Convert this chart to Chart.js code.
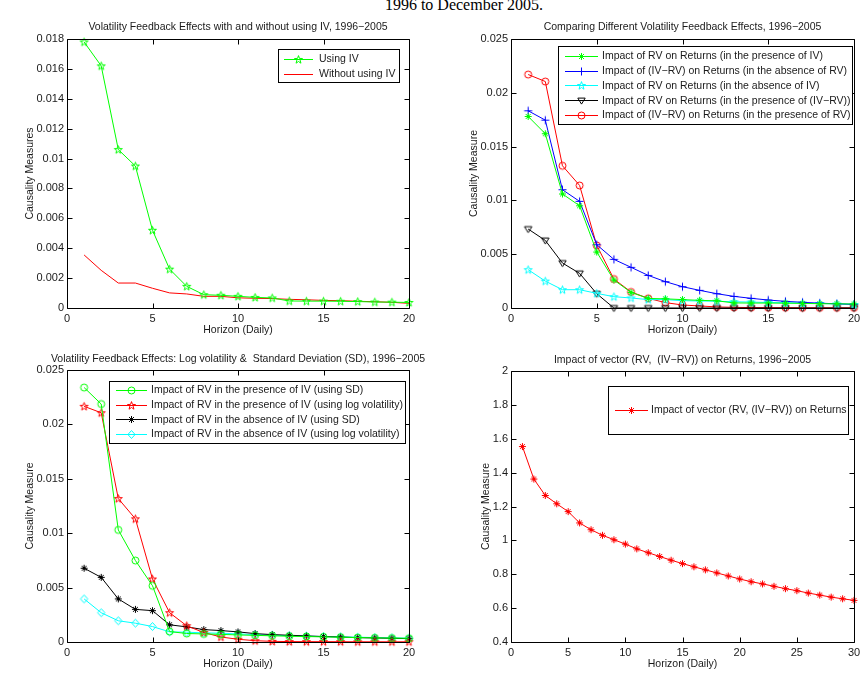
<!DOCTYPE html>
<html><head><meta charset="utf-8">
<script src="https://cdn.jsdelivr.net/npm/chart.js@4.4.1/dist/chart.umd.min.js"></script>
<style>
body{margin:0;background:#fff;width:865px;height:677px;overflow:hidden;position:relative}
canvas{position:absolute;left:0;top:0;width:865px;height:677px}
#pt{position:absolute;left:384px;width:160px;text-align:center;top:-3px;font:16px "Liberation Serif","Times New Roman",serif;line-height:16px;color:#000;white-space:nowrap}
</style></head><body>
<div id="pt">1996 to December 2005.</div>
<canvas id="c1" width="865" height="677"></canvas>
<canvas id="c2" width="865" height="677"></canvas>
<canvas id="c3" width="865" height="677"></canvas>
<canvas id="c4" width="865" height="677"></canvas>
<script>
// ---------- DATA ----------
const horizon20 = [1,2,3,4,5,6,7,8,9,10,11,12,13,14,15,16,17,18,19,20];
const horizon30 = [1,2,3,4,5,6,7,8,9,10,11,12,13,14,15,16,17,18,19,20,21,22,23,24,25,26,27,28,29,30];

// Panel 1
const usingIV   = [0.0178,0.0162,0.0106,0.0095,0.0052,0.0026,0.00145,0.00089,0.00085,0.00078,0.00071,0.00067,0.00047,0.00046,0.00046,0.00045,0.00043,0.0004,0.00039,0.00037];
const withoutIV = [0.00355,0.00252,0.00167,0.00167,0.00132,0.00101,0.00094,0.00078,0.00078,0.00068,0.00065,0.00063,0.00058,0.00055,0.00051,0.00049,0.00045,0.00042,0.00038,0.00031];

// Panel 2
const rvPresIV    = [0.0178,0.0162,0.0106,0.0095,0.0052,0.0026,0.00145,0.00089,0.00085,0.00078,0.00071,0.00067,0.00047,0.00046,0.00046,0.00045,0.00043,0.0004,0.00039,0.00037];
const ivrvAbsRV   = [0.01833,0.01746,0.01099,0.00991,0.00588,0.00452,0.00378,0.00303,0.00245,0.00198,0.00164,0.00133,0.00108,0.0009,0.00074,0.00062,0.00053,0.00045,0.00039,0.00034];
const rvAbsIV     = [0.00356,0.0025,0.0017,0.0017,0.00136,0.00105,0.00093,0.00078,0.00078,0.00068,0.00065,0.00063,0.00058,0.00055,0.00051,0.00049,0.00045,0.00042,0.00038,0.00033];
const rvPresIVRV  = [0.00734,0.00628,0.00418,0.00322,0.00133,0,0,0,0,0,0,0,0,0,0,0,0,0,0,0];
const ivrvPresRV  = [0.0217,0.02105,0.01322,0.01139,0.00582,0.00269,0.00149,0.0009,0.0005,0.00028,0.00019,0.0001,0.00006,0.00004,0.00003,0.00003,0.00002,0.00002,0.00002,0.00002];

// Panel 3
const sdPresIV  = [0.02339,0.02187,0.0103,0.00749,0.00517,0.00096,0.00078,0.00074,0.0007,0.00065,0.00061,0.00057,0.00053,0.0005,0.00047,0.00044,0.00041,0.00038,0.00036,0.00034];
const logPresIV = [0.02166,0.02107,0.01318,0.01132,0.00579,0.00269,0.00149,0.00087,0.00046,0.00025,0.00012,0.00006,0.00004,0.00003,0.00003,0.00003,0.00002,0.00002,0.00002,0.00002];
const sdAbsIV   = [0.00678,0.00594,0.00396,0.003,0.00288,0.00158,0.00139,0.00114,0.00105,0.00093,0.00077,0.00068,0.00062,0.00056,0.0005,0.00046,0.0004,0.00037,0.00034,0.00031];
const logAbsIV  = [0.00396,0.00269,0.00195,0.00173,0.00142,0.00093,0.0009,0.00084,0.00081,0.00074,0.00068,0.00063,0.00058,0.00054,0.0005,0.00047,0.00044,0.00041,0.00038,0.00035];

// Panel 4
const vectorRV = [1.554,1.362,1.265,1.216,1.17,1.103,1.063,1.03,1.004,0.978,0.95,0.927,0.905,0.883,0.863,0.844,0.826,0.808,0.79,0.772,0.756,0.743,0.729,0.715,0.703,0.689,0.677,0.665,0.655,0.646];

// Tick values
const xTicks20 = [0,5,10,15,20];
const xTicks30 = [0,5,10,15,20,25,30];
const yTicks1 = [0,0.002,0.004,0.006,0.008,0.01,0.012,0.014,0.016,0.018];
const yTicks2 = [0,0.005,0.01,0.015,0.02,0.025];
const yTicks4 = [0.4,0.6,0.8,1,1.2,1.4,1.6,1.8,2];

// ---------- STYLE ----------
const FONT = '"Liberation Sans", Arial, Helvetica, sans-serif';
const TXT = '#1a1a1a';

function marker(kind, color) {
  const s = 11, c = 5.5, cv = document.createElement('canvas');
  cv.width = s; cv.height = s;
  const g = cv.getContext('2d');
  g.strokeStyle = color; g.lineWidth = 1; g.beginPath();
  if (kind === 'circle') { g.arc(c, c, 3.5, 0, Math.PI * 2); }
  else if (kind === 'asterisk') {
    for (let k = 0; k < 4; k++) { const a = k * Math.PI / 4, r = 3.5;
      g.moveTo(c - r * Math.cos(a), c - r * Math.sin(a)); g.lineTo(c + r * Math.cos(a), c + r * Math.sin(a)); }
  } else if (kind === 'plus') { g.moveTo(c - 4, c); g.lineTo(c + 4, c); g.moveTo(c, c - 4); g.lineTo(c, c + 4); }
  else if (kind === 'pentagram') {
    for (let k = 0; k < 10; k++) { const a = -Math.PI / 2 + k * Math.PI / 5, r = k % 2 ? 1.7 : 4.2;
      const px = c + r * Math.cos(a), py = c + 0.3 + r * Math.sin(a); k ? g.lineTo(px, py) : g.moveTo(px, py); }
    g.closePath();
  } else if (kind === 'tridown') { g.moveTo(c - 3.7, c - 2.4); g.lineTo(c + 3.7, c - 2.4); g.lineTo(c, c + 3.6); g.closePath(); }
  else if (kind === 'diamond') { g.moveTo(c, c - 4); g.lineTo(c + 3.6, c); g.lineTo(c, c + 4); g.lineTo(c - 3.6, c); g.closePath(); }
  g.stroke();
  return cv;
}

const boxTicks = {
  id: 'boxTicks',
  afterDatasetsDraw(chart) {
    const { ctx, chartArea: a, scales: { x, y } } = chart;
    const l = Math.round(a.left) + 0.5, t = Math.round(a.top) + 0.5, r = Math.round(a.right) + 0.5, b = Math.round(a.bottom) + 0.5;
    ctx.save(); ctx.strokeStyle = '#000'; ctx.lineWidth = 1;
    ctx.beginPath();
    ctx.rect(l, t, r - l, b - t);
    const TL = 5;
    x.ticks.forEach(tk => { const p = Math.round(x.getPixelForValue(tk.value)) + 0.5;
      ctx.moveTo(p, b); ctx.lineTo(p, b - TL); ctx.moveTo(p, t); ctx.lineTo(p, t + TL); });
    y.ticks.forEach(tk => { const p = Math.round(y.getPixelForValue(tk.value)) + 0.5;
      ctx.moveTo(l, p); ctx.lineTo(l + TL, p); ctx.moveTo(r, p); ctx.lineTo(r - TL, p); });
    ctx.stroke(); ctx.restore();
  },
  afterDraw(chart) {
    const o = chart.options.plugins.boxTicks; if (!o) return;
    const ctx = chart.ctx, a = chart.chartArea;
    ctx.save();
    // panel title (drawn at natural width, centred over the axes)
    ctx.font = o.titleSize + 'px ' + FONT; ctx.fillStyle = TXT;
    ctx.textAlign = 'center'; ctx.textBaseline = 'middle';
    ctx.fillText(o.title, (a.left + a.right) / 2, o.titleY);
    // legend
    const lg = o.legend;
    const [x1, y1, x2, y2] = lg.box;
    ctx.fillStyle = '#fff'; ctx.fillRect(x1, y1, x2 - x1, y2 - y1);
    ctx.strokeStyle = '#000'; ctx.lineWidth = 1;
    ctx.strokeRect(Math.round(x1) + 0.5, Math.round(y1) + 0.5, Math.round(x2 - x1), Math.round(y2 - y1));
    ctx.font = lg.fontSize + 'px ' + FONT; ctx.textBaseline = 'middle'; ctx.textAlign = 'left';
    chart.data.datasets.forEach((ds, i) => {
      const yy = Math.round(lg.ys[i]) + 0.5;
      ctx.strokeStyle = ds.borderColor; ctx.lineWidth = 1;
      ctx.beginPath(); ctx.moveTo(lg.line[0], yy); ctx.lineTo(lg.line[1], yy); ctx.stroke();
      if (ds.pointStyle) { const m = ds.pointStyle; ctx.drawImage(m, (lg.line[0] + lg.line[1]) / 2 - m.width / 2, yy - m.height / 2); }
      ctx.fillStyle = TXT; ctx.fillText(ds.label, lg.textX, lg.ys[i] + 0.5);
    });
    ctx.restore();
  }
};

function series(label, xs, ys, color, mk) {
  return {
    label, data: xs.map((x, i) => ({ x, y: ys[i] })),
    borderColor: color, backgroundColor: 'rgba(0,0,0,0)', borderWidth: 1,
    pointStyle: mk ? marker(mk, color) : false, pointRadius: mk ? 4 : 0,
    tension: 0, fill: false, clip: false
  };
}

function panel(id, p) {
  const afs = 10.5, alh = afs * 1.2;
  const xH = 40;
  const yW = p.L - p.padLeft;
  new Chart(document.getElementById(id), {
    type: 'line',
    data: { datasets: p.datasets },
    options: {
      responsive: false, animation: false, events: [],
      layout: { padding: { left: p.padLeft, top: p.T, right: 865 - p.R, bottom: 677 - p.B - xH } },
      plugins: {
        legend: { display: false }, tooltip: { enabled: false }, title: { display: false },
        boxTicks: { title: p.title, titleY: p.titleY, titleSize: 10.5, legend: p.legend }
      },
      scales: {
        x: {
          type: 'linear', min: p.xTicks[0], max: p.xTicks[p.xTicks.length - 1],
          afterBuildTicks: s => { s.ticks = p.xTicks.map(v => ({ value: v })); },
          afterFit: s => { s.height = xH; },
          grid: { display: false, drawTicks: false }, border: { display: false },
          ticks: { padding: 4, maxRotation: 0, autoSkip: false, color: TXT, font: { family: FONT, size: 11 }, callback: v => String(v) },
          title: { display: true, text: 'Horizon (Daily)', color: TXT, font: { family: FONT, size: afs },
            padding: { top: 0, bottom: 18 - alh / 2 } }
        },
        y: {
          type: 'linear', min: p.yTicks[0], max: p.yTicks[p.yTicks.length - 1],
          afterBuildTicks: s => { s.ticks = p.yTicks.map(v => ({ value: v })); },
          afterFit: s => { s.width = yW; },
          grid: { display: false, drawTicks: false }, border: { display: false },
          ticks: { padding: 3, autoSkip: false, color: TXT, font: { family: FONT, size: 11 }, callback: v => String(v) },
          title: { display: true, text: p.yTitle, color: TXT, font: { family: FONT, size: afs },
            padding: { top: p.yTitleX - p.padLeft - alh / 2, bottom: 0 } }
        }
      }
    },
    plugins: [boxTicks]
  });
}

panel('c1', {
  L: 67, T: 39, R: 409, B: 308, padLeft: 0, titleY: 27, yTitleX: 30,
  title: 'Volatility Feedback Effects with and without using IV, 1996\u22122005',
  yTitle: 'Causality Measures', xTicks: xTicks20, yTicks: yTicks1,
  datasets: [
    series('Using IV', horizon20, usingIV, '#00ff00', 'pentagram'),
    series('Without using IV', horizon20, withoutIV, '#ff0000', null)
  ],
  legend: { box: [278, 49, 399, 82], line: [284, 313], textX: 319, ys: [59, 74], fontSize: 10.5 }
});

panel('c2', {
  L: 511, T: 39, R: 854, B: 308, padLeft: 440, titleY: 27, yTitleX: 474,
  title: 'Comparing Different Volatility Feedback Effects, 1996\u22122005',
  yTitle: 'Causality Measure', xTicks: xTicks20, yTicks: yTicks2,
  datasets: [
    series('Impact of RV on Returns (in the presence of IV)', horizon20, rvPresIV, '#00ff00', 'asterisk'),
    series('Impact of (IV\u2212RV) on Returns (in the absence of RV)', horizon20, ivrvAbsRV, '#0000ff', 'plus'),
    series('Impact of RV on Returns (in the absence of IV)', horizon20, rvAbsIV, '#00ffff', 'pentagram'),
    series('Impact of RV on Returns (in the presence of (IV\u2212RV))', horizon20, rvPresIVRV, '#000000', 'tridown'),
    series('Impact of (IV\u2212RV) on Returns (in the presence of RV)', horizon20, ivrvPresRV, '#ff0000', 'circle')
  ],
  legend: { box: [558, 46, 852, 124], line: [565, 598], textX: 602, ys: [55.7, 70.7, 85.3, 100.3, 115], fontSize: 10.5 }
});

panel('c3', {
  L: 67, T: 370, R: 409, B: 642, padLeft: 0, titleY: 359.5, yTitleX: 30,
  title: 'Volatility Feedback Effects: Log volatility &  Standard Deviation (SD), 1996\u22122005',
  yTitle: 'Causality Measure', xTicks: xTicks20, yTicks: yTicks2,
  datasets: [
    series('Impact of RV in the presence of IV (using SD)', horizon20, sdPresIV, '#00ff00', 'circle'),
    series('Impact of RV in the presence of IV (using log volatility)', horizon20, logPresIV, '#ff0000', 'pentagram'),
    series('Impact of RV in the absence of IV (using SD)', horizon20, sdAbsIV, '#000000', 'asterisk'),
    series('Impact of RV in the absence of IV (using log volatility)', horizon20, logAbsIV, '#00ffff', 'diamond')
  ],
  legend: { box: [109, 381, 405, 443], line: [116, 147], textX: 151, ys: [390, 404.7, 419.3, 433.7], fontSize: 10.5 }
});

panel('c4', {
  L: 511, T: 371, R: 854, B: 642, padLeft: 440, titleY: 360, yTitleX: 486,
  title: 'Impact of vector (RV,  (IV\u2212RV)) on Returns, 1996\u22122005',
  yTitle: 'Causality Measure', xTicks: xTicks30, yTicks: yTicks4,
  datasets: [
    series('Impact of vector (RV, (IV\u2212RV)) on Returns', horizon30, vectorRV, '#ff0000', 'asterisk')
  ],
  legend: { box: [608, 386, 848, 434], line: [615, 648], textX: 651, ys: [410], fontSize: 10.5 }
});
</script>
</body></html>
